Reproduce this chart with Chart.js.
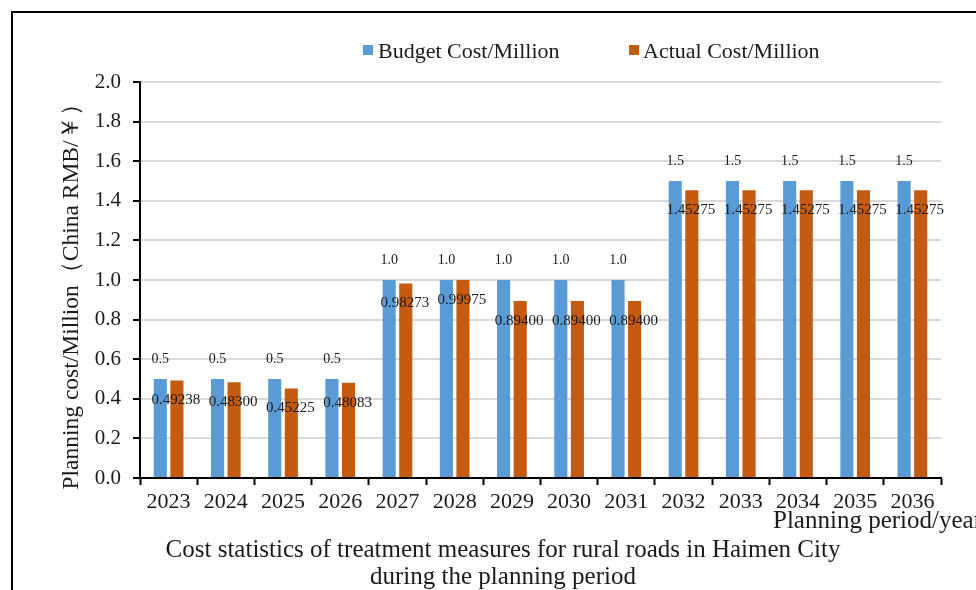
<!DOCTYPE html>
<html><head><meta charset="utf-8">
<script src="https://cdn.jsdelivr.net/npm/chart.js@4"></script>
<style>html,body{margin:0;padding:0;background:#fff;overflow:hidden}#wrap{position:relative;width:976px;height:590px}</style>
</head><body><div id="wrap"><canvas id="c"></canvas></div>
<script>
const years = ['2023','2024','2025','2026','2027','2028','2029','2030','2031','2032','2033','2034','2035','2036'];
const budgetCost = [0.5,0.5,0.5,0.5,1.0,1.0,1.0,1.0,1.0,1.5,1.5,1.5,1.5,1.5];
const actualCost = [0.49238,0.48300,0.45225,0.48083,0.98273,0.99975,0.89400,0.89400,0.89400,1.45275,1.45275,1.45275,1.45275,1.45275];
const budgetLabels = ['0.5','0.5','0.5','0.5','1.0','1.0','1.0','1.0','1.0','1.5','1.5','1.5','1.5','1.5'];
const actualLabels = ['0.49238','0.48300','0.45225','0.48083','0.98273','0.99975','0.89400','0.89400','0.89400','1.45275','1.45275','1.45275','1.45275','1.45275'];
const seriesNames = ['Budget Cost/Million','Actual Cost/Million'];
const yAxisTitle = 'Planning cost/Million（China RMB/￥）';
const xAxisTitle = 'Planning period/year';
const bottomTitle = ['Cost statistics of treatment measures for rural roads in Haimen City','during the planning period'];

const SERIF = '"Liberation Serif","Times New Roman",serif';
const BLUE = '#5B9BD5', ORANGE = '#C55A11';

const deco = {
  id: 'deco',
  beforeDraw(chart) {
    const ctx = chart.ctx;
    ctx.save();
    ctx.fillStyle = '#fff';
    ctx.fillRect(0, 0, chart.width, chart.height);
    ctx.strokeStyle = '#000';
    ctx.lineWidth = 2;
    ctx.beginPath();
    ctx.moveTo(12, chart.height + 2);
    ctx.lineTo(12, 12);
    ctx.lineTo(chart.width + 2, 12);
    ctx.stroke();
    ctx.restore();
  },
  afterDraw(chart) {
    const ctx = chart.ctx;
    ctx.save();
    ctx.fillStyle = '#1a1a1a';
    ctx.textAlign = 'center';
    ctx.textBaseline = 'middle';
    // data labels
    const m0 = chart.getDatasetMeta(0), m1 = chart.getDatasetMeta(1);
    ctx.font = '14px ' + SERIF;
    m0.data.forEach((el, i) => ctx.fillText(budgetLabels[i], el.x, el.y - 20));
    ctx.font = '15px ' + SERIF;
    m1.data.forEach((el, i) => ctx.fillText(actualLabels[i], el.x - 1, el.y + 20));
    // legend
    ctx.textAlign = 'left';
    ctx.textBaseline = 'alphabetic';
    ctx.font = '22px ' + SERIF;
    ctx.fillStyle = BLUE; ctx.fillRect(363, 45, 10, 10);
    ctx.fillStyle = ORANGE; ctx.fillRect(629, 45, 10, 10);
    ctx.fillStyle = '#1a1a1a';
    ctx.fillText(seriesNames[0], 378, 58);
    ctx.fillText(seriesNames[1], 643, 58);
    // x axis title
    ctx.font = '25px ' + SERIF;
    ctx.fillText(xAxisTitle, 773, 528);
    // bottom title
    ctx.textAlign = 'center';
    ctx.fillText(bottomTitle[0], 503, 557);
    ctx.fillText(bottomTitle[1], 503, 584);
    // y axis title
    ctx.translate(78, 291);
    ctx.rotate(-Math.PI / 2);
    ctx.font = '23.5px ' + SERIF;
    ctx.fillText(yAxisTitle, 0, 0);
    ctx.restore();
  }
};

new Chart(document.getElementById('c'), {
  type: 'bar',
  data: {
    labels: years,
    datasets: [
      { label: seriesNames[0], data: budgetCost, backgroundColor: BLUE, categoryPercentage: 0.58, barPercentage: 0.79 },
      { label: seriesNames[1], data: actualCost, backgroundColor: ORANGE, categoryPercentage: 0.58, barPercentage: 0.79 }
    ]
  },
  options: {
    responsive: true,
    maintainAspectRatio: false,
    animation: false,
    layout: { padding: { top: 82, right: 35, left: 0, bottom: 0 } },
    plugins: { legend: { display: false }, tooltip: { enabled: false }, title: { display: false } },
    scales: {
      x: {
        afterFit(s) { s.height = 112; },
        grid: { offset: true, drawOnChartArea: false, drawTicks: true, tickLength: 7, tickColor: '#000', tickWidth: 2 },
        border: { color: '#000', width: 2 },
        ticks: { color: '#1a1a1a', font: { family: SERIF, size: 22 }, padding: 4, maxRotation: 0 }
      },
      y: {
        min: 0, max: 2,
        afterFit(s) { s.width = 140; },
        grid: { color: '#D9D9D9', lineWidth: 2, tickColor: '#000', tickLength: 7, tickWidth: 2 },
        border: { color: '#000', width: 2 },
        ticks: { stepSize: 0.2, color: '#1a1a1a', font: { family: SERIF, size: 21 }, padding: 12,
                 callback: v => Number(v).toFixed(1) }
      }
    }
  },
  plugins: [deco]
});
</script>
</body></html>
